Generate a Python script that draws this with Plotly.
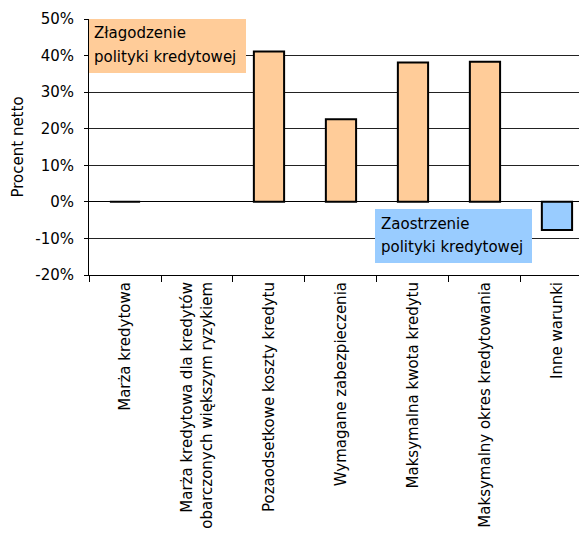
import plotly.graph_objects as go

categories = [
    "Marża kredytowa",
    "Marża kredytowa dla kredytów<br>obarczonych większym ryzykiem",
    "Pozaodsetkowe koszty kredytu",
    "Wymagane zabezpieczenia",
    "Maksymalna kwota kredytu",
    "Maksymalny okres kredytowania",
    "Inne warunki",
]
values = [0.0, None, 41.1, 22.6, 38.1, 38.3, -7.7]
y_ticks = [-20, -10, 0, 10, 20, 30, 40, 50]
y_tick_labels = [f"{t}%" for t in y_ticks]
easing_lines = ["Złagodzenie", "polityki kredytowej"]
tightening_lines = ["Zaostrzenie", "polityki kredytowej"]

PEACH = "#FFCC99"
BLUE = "#99CCFF"
colors = [BLUE if (v is not None and v < 0) else PEACH for v in values]

FONT = "DejaVu Sans"

# plot area in pixels
L, T, B = 89, 19, 275
W = 579 - L
H = B - T


def px(x):
    return (x - L) / W


def py(y):
    return (B - y) / H


fig = go.Figure()
fig.add_trace(go.Bar(
    x=categories, y=values,
    marker=dict(color=colors, line=dict(color="black", width=2)),
    width=0.42,
))

shapes = [
    dict(type="rect", xref="paper", yref="paper", x0=px(89), x1=px(246), y0=py(73), y1=py(19),
         fillcolor=PEACH, line=dict(width=0), layer="above"),
    dict(type="rect", xref="paper", yref="paper", x0=px(375), x1=px(532), y0=py(263), y1=py(209),
         fillcolor=BLUE, line=dict(width=0), layer="above"),
]

annotations = []
for line, yc in zip(easing_lines, [33, 57]):
    annotations.append(dict(xref="paper", yref="paper", x=px(92), y=py(yc), xanchor="left",
                            yanchor="middle", text=line, showarrow=False,
                            font=dict(family=FONT, size=15, color="black")))
for line, yc in zip(tightening_lines, [224, 247]):
    annotations.append(dict(xref="paper", yref="paper", x=px(379), y=py(yc), xanchor="left",
                            yanchor="middle", text=line, showarrow=False,
                            font=dict(family=FONT, size=15, color="black")))

fig.update_layout(
    width=579, height=534,
    margin=dict(l=L, r=0, t=T, b=534 - B),
    paper_bgcolor="white", plot_bgcolor="white",
    showlegend=False,
    font=dict(family=FONT, size=15, color="black"),
    xaxis=dict(
        range=[-0.5, 6.306],
        tickangle=-90,
        tickson="boundaries",
        ticks="outside", ticklen=6, tickcolor="black",
        showgrid=False,
        showline=True, linecolor="black", linewidth=1,
        automargin=False,
        tickfont=dict(family=FONT, size=15),
    ),
    yaxis=dict(
        range=[-20, 50],
        tickvals=y_ticks, ticktext=y_tick_labels,
        ticks="outside", ticklen=4, tickcolor="black",
        ticklabelstandoff=7,
        showgrid=True, gridcolor="#222222", gridwidth=1,
        zeroline=True, zerolinecolor="black", zerolinewidth=1,
        showline=True, linecolor="black", linewidth=1,
        automargin=False,
        tickfont=dict(family=FONT, size=15),
        title=dict(text="Procent netto", font=dict(family=FONT, size=15), standoff=7),
    ),
    shapes=shapes,
    annotations=annotations,
)

fig.write_html("out.html")
